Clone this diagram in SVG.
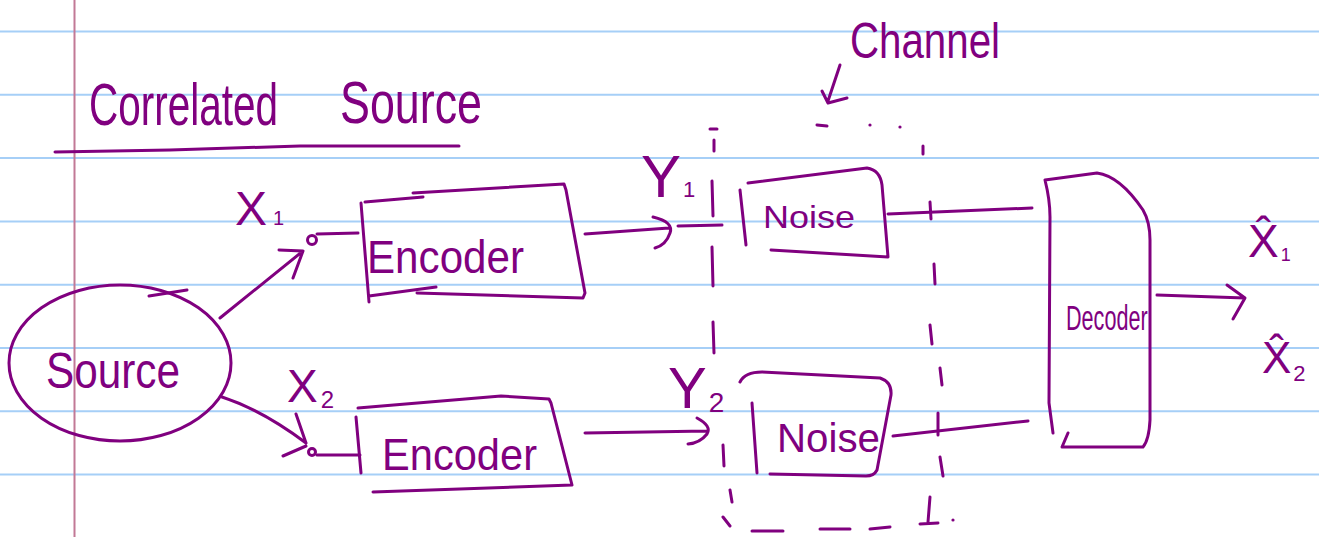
<svg xmlns="http://www.w3.org/2000/svg" width="1319" height="537" viewBox="0 0 1319 537">
<style>
.ink{fill:none;stroke:#80007f;stroke-width:3;stroke-linecap:round;stroke-linejoin:round}
.txt{fill:#80007f;font-family:"Liberation Sans",Arial,sans-serif}
.rule{stroke:#a6cff7;stroke-width:2}
.margin{stroke:#c27996;stroke-width:2}
</style>
<g id="paper">
<rect x="0" y="0" width="1319" height="537" fill="#ffffff"/>
<line class="rule" x1="0" y1="31.5" x2="1319" y2="31.5"/>
<line class="rule" x1="0" y1="94.8" x2="1319" y2="94.8"/>
<line class="rule" x1="0" y1="158.1" x2="1319" y2="158.1"/>
<line class="rule" x1="0" y1="221.4" x2="1319" y2="221.4"/>
<line class="rule" x1="0" y1="284.7" x2="1319" y2="284.7"/>
<line class="rule" x1="0" y1="348" x2="1319" y2="348"/>
<line class="rule" x1="0" y1="411.3" x2="1319" y2="411.3"/>
<line class="rule" x1="0" y1="474.6" x2="1319" y2="474.6"/>
<line class="margin" x1="74.5" y1="0" x2="74.5" y2="537"/>
</g>
<g id="title">
<text class="txt" transform="translate(89,125) scale(0.675,1)" font-size="60">Correlated</text>
<text class="txt" transform="translate(340,123) scale(0.747,1)" font-size="60">Source</text>
<path class="ink" d="M55,152 L170,150 L300,146 L459,146"/>
</g>
<g id="source">
<ellipse class="ink" cx="120" cy="363" rx="111" ry="78"/>
<path class="ink" d="M149,296 L187,290"/>
<text class="txt" x="46" y="388" font-size="50" textLength="134" lengthAdjust="spacingAndGlyphs">Source</text>
</g>
<g id="encoder1">
<path class="ink" d="M365,202 L423,197 M413,193 L564,184 L566,190 L585,293 L583,298 L417,293 M436,287 L369,296 M361,203 L369,302"/>
<text class="txt" x="367" y="273" font-size="46" textLength="157" lengthAdjust="spacingAndGlyphs">Encoder</text>
</g>
<g id="encoder2">
<path class="ink" d="M358,408 L501,396 L549,399 L551,403 L572,485 L373,492 M356,417 L361,473"/>
<text class="txt" x="382" y="470" font-size="44" textLength="155" lengthAdjust="spacingAndGlyphs">Encoder</text>
</g>
<g id="noise1">
<path class="ink" d="M748,183 L867,168 Q880,170 882,185 L888,257 L771,250 M740,190 L746,245"/>
<text class="txt" x="763" y="228" font-size="32" textLength="92" lengthAdjust="spacingAndGlyphs">Noise</text>
</g>
<g id="noise2">
<path class="ink" d="M740,382 Q745,372 762,372 L880,378 Q892,382 891,395 L877,470 Q874,476 866,476 L770,474 M752,403 L757,473"/>
<text class="txt" x="777" y="452" font-size="40" textLength="103" lengthAdjust="spacingAndGlyphs">Noise</text>
</g>
<g id="decoder">
<path class="ink" d="M1045,180 L1097,173 Q1120,176 1143,210 Q1150,222 1150,240 L1150,420 Q1149,440 1143,447 L1062,447 L1068,433 M1045,180 Q1050,200 1050,217 L1049,403 L1053,433"/>
<text class="txt" transform="translate(1066,330) scale(0.6,1)" font-size="36">Decoder</text>
</g>
<g id="channel">
<path class="ink" d="M710,129 L717,129 M714,140 L714,151 M712,181 L713,216 M712,247 L713,286 M713,322 L714,353 M723,445 L724,466 M730,490 L732,502 M723,517 L730,526 M752,531 L783,531 M820,529 L850,529 M870,529 L890,527 M920,524 L938,523 M930,497 L928,522 M817,125 L827,126 M923,146 L923,154 M930,202 L931,219 M934,264 L935,284 M930,325 L932,344 M940,368 L942,385 M938,413 L938,435 M940,457 L943,476"/>
<circle cx="870" cy="125" r="1.6" fill="#80007f"/>
<circle cx="900" cy="127" r="1.6" fill="#80007f"/>
<circle cx="953" cy="520" r="1.6" fill="#80007f"/>
<text class="txt" x="850" y="58" font-size="50" textLength="150" lengthAdjust="spacingAndGlyphs">Channel</text>
</g>
<g id="labels">
<text class="txt" x="235" y="225" font-size="48">X<tspan font-size="20" dx="6">1</tspan></text>
<text class="txt" x="287" y="402" font-size="46">X<tspan font-size="24" dx="3" dy="6">2</tspan></text>
<text class="txt" x="641" y="197" font-size="60">Y<tspan font-size="22" dx="2">1</tspan></text>
<text class="txt" x="668" y="408" font-size="58">Y<tspan font-size="28" dx="2" dy="4">2</tspan></text>
<text class="txt" x="1248" y="257" font-size="46" font-family="DejaVu Sans, sans-serif">X̂<tspan font-size="18" dx="2" dy="4">1</tspan></text>
<text class="txt" x="1262" y="373" font-size="44" font-family="DejaVu Sans, sans-serif">X̂<tspan font-size="22" dx="2" dy="8">2</tspan></text>
</g>
<g id="connectors">
<path class="ink" d="M220,318 L303,251 M279,250 L303,251 L293,278"/>
<circle class="ink" cx="312" cy="240" r="4.5"/>
<path class="ink" d="M317,234 L358,233"/>
<path class="ink" d="M222,397 Q262,410 306,443 M296,414 L306,443 M283,456 L306,446"/>
<circle class="ink" cx="312" cy="452" r="3.5"/>
<path class="ink" d="M317,455 L360,455"/>
<path class="ink" d="M585,234 L669,228 M653,217 Q674,222 670,233 Q666,245 655,248 M678,226 L722,225"/>
<path class="ink" d="M585,433 L707,431 M697,418 Q712,426 707,434 Q700,443 688,444"/>
<path class="ink" d="M888,214 L1032,208"/>
<path class="ink" d="M893,436 L1028,421"/>
<path class="ink" d="M1157,295 L1245,298 M1227,285 L1245,298 L1233,319"/>
<path class="ink" d="M840,65 L828,101 M822,91 L828,103 L847,98"/>
</g>
</svg>
